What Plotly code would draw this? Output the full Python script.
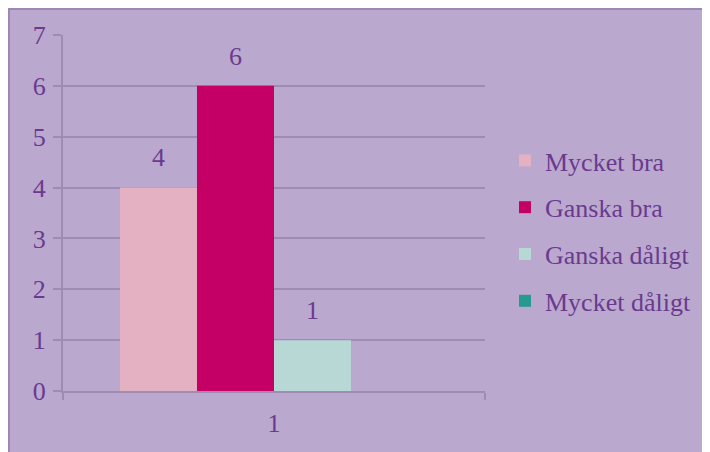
import plotly.graph_objects as go

categories = ["1"]
series_names = ["Mycket bra", "Ganska bra", "Ganska dåligt", "Mycket dåligt"]
series_values = [[4], [6], [1], [0]]
series_labels = [["4"], ["6"], ["1"], [""]]
colors = ["#E3B1C1", "#C40066", "#B8D8D6", "#269A8E"]
y_ticks = [0, 1, 2, 3, 4, 5, 6, 7]

txt = "#6A3A8E"
grid = "#9F8BB3"
bg = "#BAA8CE"
FONT = "Liberation Serif, Times New Roman, serif"

# page body has an 8px margin; figure drawn from screen (8,8)
OFF = 8
W, H = 710 - OFF, 452 - OFF
L, R, T, B = 63 - OFF, 485 - OFF, 35 - OFF, 391 - OFF
pw, ph = R - L, B - T

def px(x):
    return (x - OFF - L) / pw

def py(y):
    return (B - (y - OFF)) / ph

fig = go.Figure()
for name, vals, col in zip(series_names, series_values, colors):
    fig.add_trace(go.Bar(
        x=categories, y=vals, name=name, marker_color=col, marker_line_width=0,
        legendgroup=name, offsetgroup=name,
    ))
for name, vals, labs in zip(series_names, series_values, series_labels):
    fig.add_trace(go.Scatter(
        x=categories, y=vals, mode="text+markers", text=labs, textposition="top center",
        marker=dict(size=22, opacity=0), showlegend=False, hoverinfo="skip",
        textfont=dict(family=FONT, size=26, color=txt), cliponaxis=False,
        offsetgroup=name, legendgroup=name,
    ))

fig.add_shape(type="rect", xref="paper", yref="paper", layer="below",
              x0=px(9), x1=px(720), y0=py(9), y1=py(460),
              fillcolor=bg, line=dict(color="#9C88B2", width=2))

fig.update_layout(
    width=W, height=H,
    margin=dict(l=L, r=W - R, t=T, b=H - B, autoexpand=False),
    paper_bgcolor="white", plot_bgcolor=bg,
    barmode="group", bargap=0.27, bargroupgap=0,
    scattermode="group", scattergap=0.27,
    font=dict(family=FONT, size=26, color=txt),
    showlegend=True,
    legend=dict(x=px(505), y=py(137), xanchor="left", yanchor="top",
                bgcolor="rgba(0,0,0,0)", traceorder="grouped", tracegroupgap=10,
                font=dict(family=FONT, size=26, color=txt), itemwidth=30),
)
fig.update_yaxes(range=[0, 7], tickvals=y_ticks, showgrid=True, gridcolor=grid, gridwidth=2,
                 showline=True, linecolor=grid, linewidth=2, ticks="outside", ticklen=8,
                 tickcolor=grid, tickwidth=2, zeroline=False, automargin=False,
                 ticklabelstandoff=2,
                 tickfont=dict(family=FONT, size=26, color=txt))
fig.update_xaxes(type="category", showline=True, linecolor=grid, linewidth=2,
                 ticks="outside", ticklen=7, tickcolor=grid, tickwidth=2, tickson="boundaries",
                 showgrid=False, automargin=False, ticklabelstandoff=8,
                 tickfont=dict(family=FONT, size=26, color=txt))

fig.write_html("out.html")
